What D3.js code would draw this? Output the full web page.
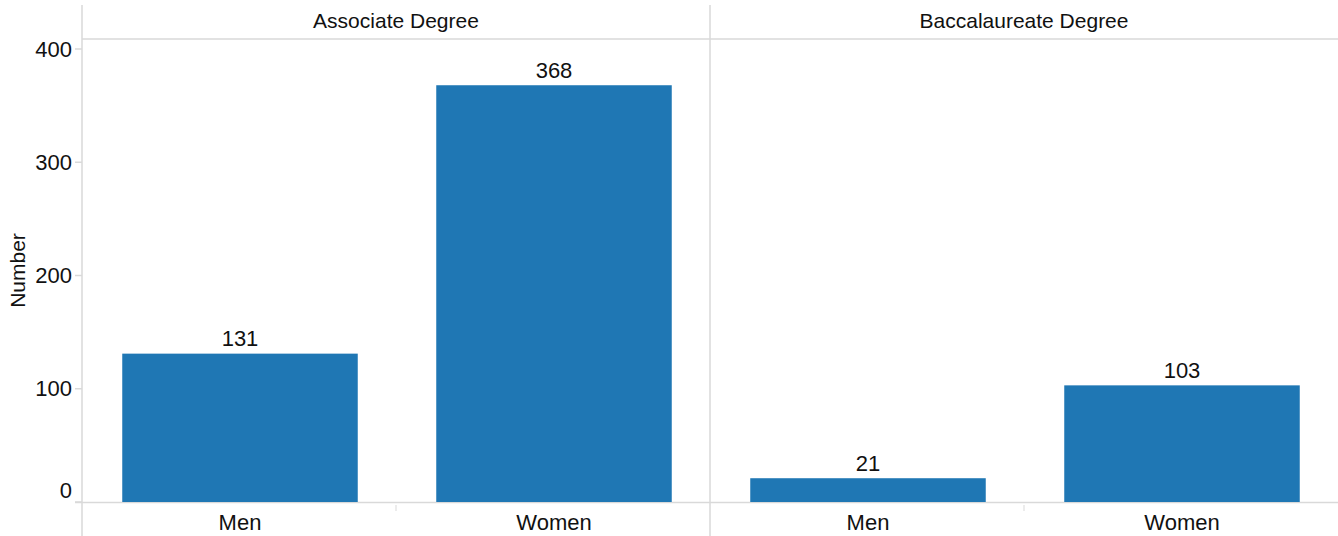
<!DOCTYPE html>
<html><head><meta charset="utf-8">
<script src="https://cdn.jsdelivr.net/npm/d3@7"></script>
<style>body{margin:0;background:#fff}svg{display:block;font-family:"Liberation Sans",Arial,sans-serif}</style>
</head><body><svg id="c" width="1338" height="536"></svg>
<script>
const panels = ["Associate Degree", "Baccalaureate Degree"];
const categories = ["Men", "Women"];
const assocValues = [131, 368];
const baccValues = [21, 103];
const yTicks = [0, 100, 200, 300, 400];

(function () {
const seriesByPanel = [assocValues, baccValues];
const svg = d3.select("#c");
const mLeft = 82, mRight = 1338, mTop = 39, mBottom = 502;
const lineColor = "#d9d9d9";
const txt = "#111";

const xPanel = d3.scaleBand().domain(panels).range([mLeft, mRight]);
const y = d3.scaleLinear().domain([0, 400]).range([mBottom, 49]);

svg.append("line").attr("x1", mLeft).attr("x2", mRight).attr("y1", mTop).attr("y2", mTop).attr("stroke", lineColor).attr("stroke-width", 1.5);
svg.append("line").attr("x1", 75).attr("x2", mRight).attr("y1", mBottom + 0.5).attr("y2", mBottom + 0.5).attr("stroke", lineColor).attr("stroke-width", 1.5);
panels.forEach(p => {
  const x0 = xPanel(p);
  svg.append("line").attr("x1", x0).attr("x2", x0).attr("y1", 5).attr("y2", 536).attr("stroke", lineColor).attr("stroke-width", 1.5);
});

yTicks.forEach(t => {
  svg.append("line").attr("x1", 75).attr("x2", mLeft).attr("y1", y(t)).attr("y2", y(t)).attr("stroke", lineColor).attr("stroke-width", 1.5);
  svg.append("text").attr("x", 72).attr("y", t === 0 ? y(t) - 12 : y(t)).attr("dy", "0.35em")
    .attr("text-anchor", "end").attr("font-size", 22).attr("fill", txt).text(t);
});
svg.append("text").attr("transform", `translate(25,${(mTop + mBottom) / 2}) rotate(-90)`)
  .attr("text-anchor", "middle").attr("font-size", 21).attr("fill", txt).text("Number");

panels.forEach((p, i) => {
  const x0 = xPanel(p);
  const xb = d3.scaleBand().domain(categories).range([x0, x0 + xPanel.bandwidth()]).paddingInner(0.25).paddingOuter(0.125);
  const g = svg.append("g");
  svg.append("text").attr("x", x0 + xPanel.bandwidth() / 2).attr("y", 21).attr("dy", "0.35em")
    .attr("text-anchor", "middle").attr("font-size", 21).attr("fill", txt).text(p);
  const vals = seriesByPanel[i];
  categories.forEach((c, j) => {
    g.append("rect").attr("x", xb(c) + 1).attr("width", xb.bandwidth())
      .attr("y", y(vals[j])).attr("height", y(0) - y(vals[j])).attr("fill", "#1f77b4");
    g.append("text").attr("x", xb(c) + 1 + xb.bandwidth() / 2).attr("y", y(vals[j]) - 15).attr("dy", "0.35em")
      .attr("text-anchor", "middle").attr("font-size", 22).attr("fill", txt).text(vals[j]);
    g.append("text").attr("x", xb(c) + 1 + xb.bandwidth() / 2).attr("y", 522).attr("dy", "0.35em")
      .attr("text-anchor", "middle").attr("font-size", 22).attr("fill", txt).text(c);
  });
  const mid = x0 + xPanel.bandwidth() / 2;
  svg.append("line").attr("x1", mid).attr("x2", mid).attr("y1", 505).attr("y2", 511).attr("stroke", lineColor).attr("stroke-width", 1);
});
})();
</script></body></html>
